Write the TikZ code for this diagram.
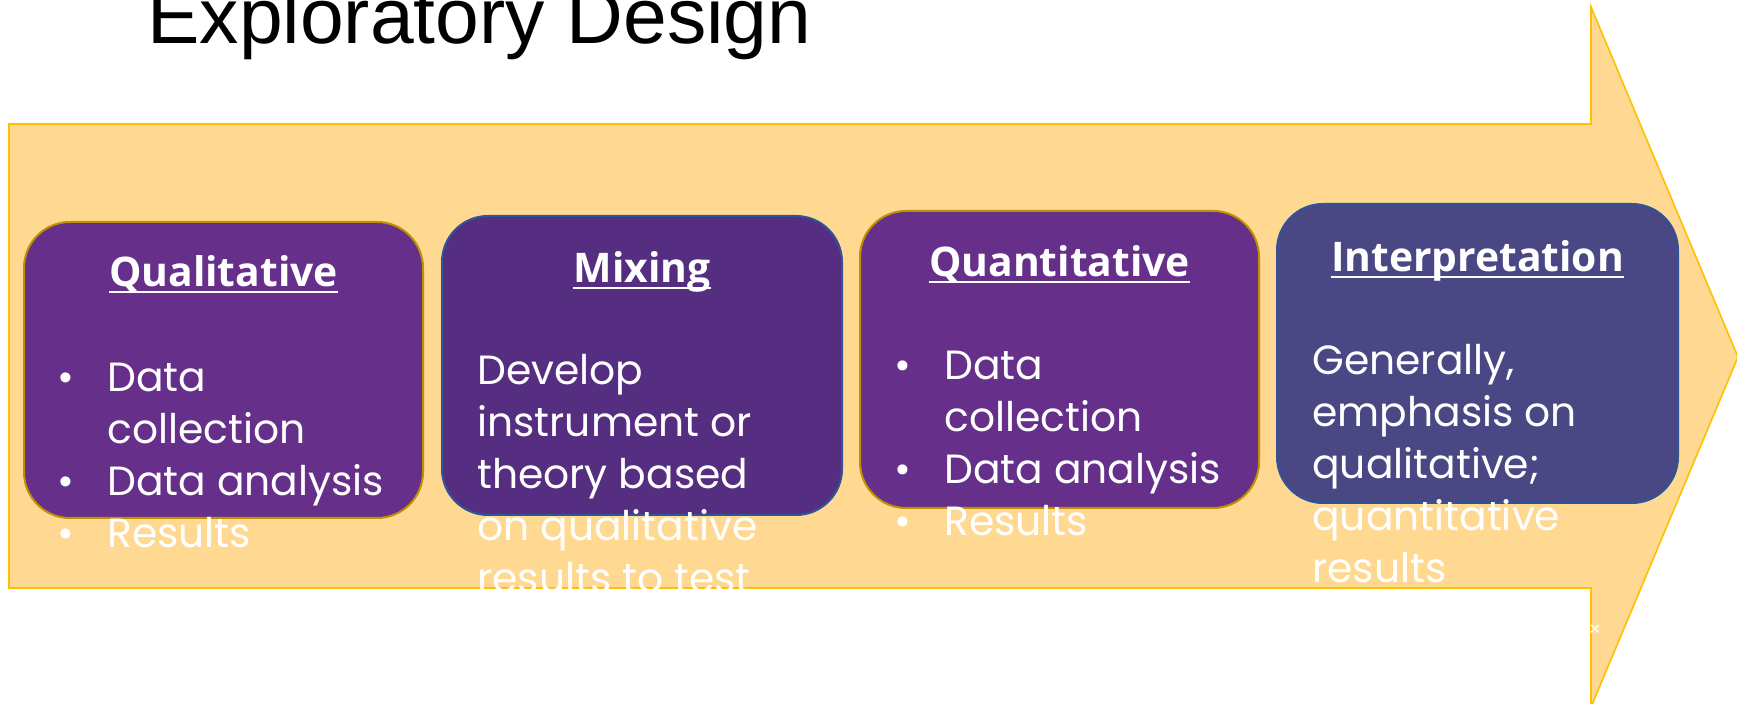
\documentclass[tikz,border=0pt]{standalone}
\usepackage{fontspec}
\setmainfont{Poppins}
\newfontfamily\headfont{Open Sans}
\newfontfamily\titlefont{Liberation Sans}
\newcommand{\bodytext}{\fontsize{20.4}{26}\selectfont}
\newcommand{\bl}{\makebox[25pt][l]{\textbullet}}
\newcommand{\ind}{\hspace*{25pt}}
\definecolor{arrowfill}{HTML}{FFD891}
\definecolor{arrowline}{HTML}{FFC000}
\definecolor{purpA}{HTML}{652F8A}
\definecolor{purpB}{HTML}{552E81}
\definecolor{purpC}{HTML}{4A4884}
\definecolor{goldline}{HTML}{BF9000}
\definecolor{blueline}{HTML}{2F5597}
\tikzset{
  arrowshape/.style={fill=arrowfill, draw=arrowline, line width=0.8pt, line join=miter},
  titlestyle/.style={anchor=base west, inner sep=0, font=\titlefont\fontsize{39.3}{44}\selectfont, text=black},
  boxbase/.style={rounded corners=23pt, line width=1pt, inner sep=0},
  goldbox/.style={boxbase, fill=purpA, draw=goldline},
  bluebox/.style={boxbase, draw=blueline},
  headstyle/.style={anchor=base, inner sep=0, text=white, font=\headfont\bfseries\fontsize{20.4}{24}\selectfont},
  ulstyle/.style={draw=white, line width=1pt},
  bodystyle/.style={anchor=base west, inner sep=0, text=white, font=\bodytext},
}
\begin{document}
\begin{tikzpicture}[x=0.5pt,y=-0.5pt]
\useasboundingbox (0,0) rectangle (1737,704);
\clip (0,0) rectangle (1737,704);
\fill[white] (0,0) rectangle (1737,704);
% big arrow
\draw[arrowshape] (9,124) -- (1591,124) -- (1591,7) -- (1738,357) -- (1591,707) -- (1591,588) -- (9,588) -- cycle;
% title
\node[titlestyle] (title) at (147,44) {Exploratory Design};
% boxes
\node[goldbox, minimum width=199.5pt, minimum height=148pt] (b1) at (223.5,370) {};
\node[bluebox, fill=purpB, minimum width=200pt, minimum height=149.5pt] (b2) at (642,365.5) {};
\node[goldbox, minimum width=199.5pt, minimum height=148.5pt] (b3) at (1059.5,359.5) {};
\node[bluebox, fill=purpC, minimum width=200.5pt, minimum height=149.5pt] (b4) at (1477.5,353.5) {};
% headings
\node[headstyle] (h1) at (223.5,287) {Qualitative};
\node[headstyle] (h2) at (642,283) {Mixing};
\node[headstyle] (h3) at (1059.5,277) {Quantitative};
\node[headstyle] (h4) at (1477.5,272) {Interpretation};
\foreach \h in {h1,h2,h3,h4}{
  \draw[ulstyle] ([yshift=-2.5pt]\h.base west) -- ([yshift=-2.5pt]\h.base east);
}
% bodies
\node[bodystyle] (t1) at (57,392) {\parbox[t]{220pt}{\bl Data\\\ind collection\\\bl Data analysis\\\bl Results}};
\node[bodystyle] (t2) at (477,385) {\parbox[t]{220pt}{Develop\\instrument or\\theory based\\on qualitative\\results to test}};
\node[bodystyle] (t3) at (894,380) {\parbox[t]{220pt}{\bl Data\\\ind collection\\\bl Data analysis\\\bl Results}};
\node[bodystyle] (t4) at (1312,375) {\parbox[t]{220pt}{Generally,\\emphasis on\\qualitative;\\quantitative\\results}};
\node[inner sep=0, text=white, font=\fontsize{10}{10}\selectfont] (xmark) at (1595,631) {×};
\end{tikzpicture}
\end{document}
